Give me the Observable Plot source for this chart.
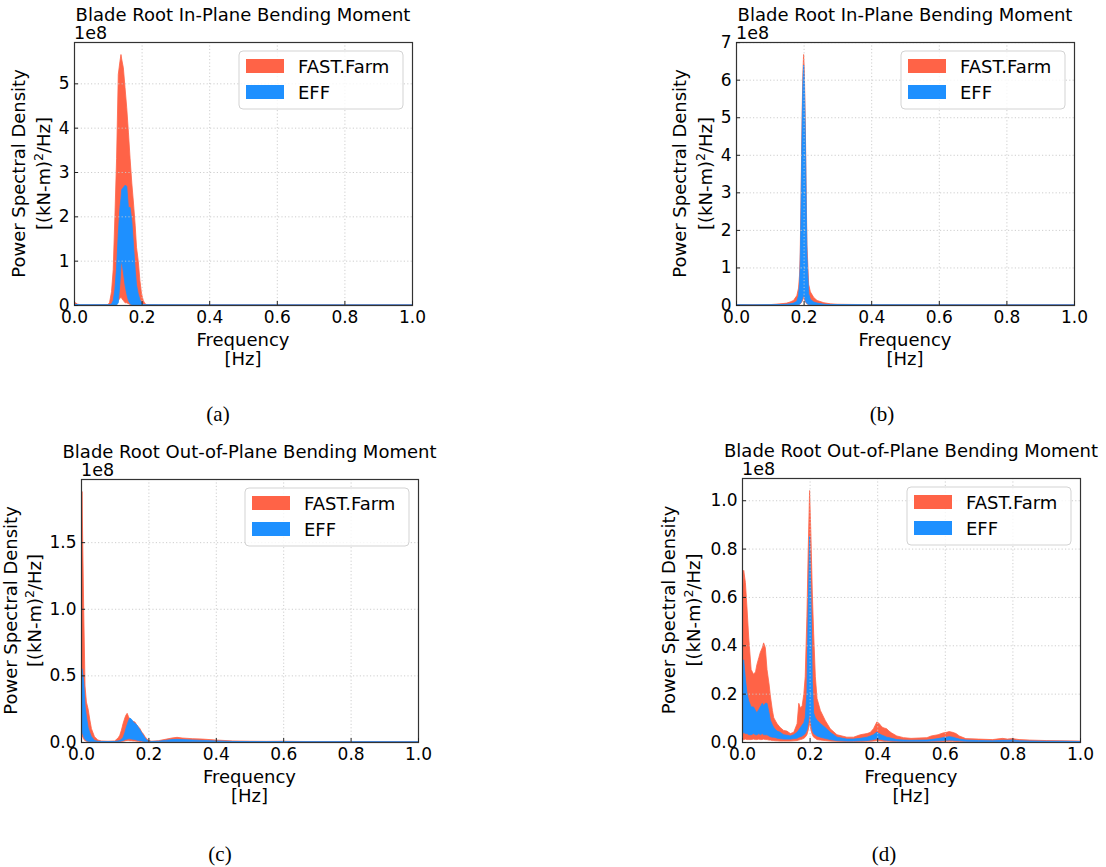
<!DOCTYPE html>
<html>
<head>
<meta charset="utf-8">
<script src="https://cdn.jsdelivr.net/npm/d3@7"></script>
<script src="https://cdn.jsdelivr.net/npm/@observablehq/plot@0.6"></script>
<style>
  body { margin: 0; background: #fff; }
  #fig { position: relative; width: 1106px; height: 867px; overflow: hidden; background: #fff; }
</style>
</head>
<body>
<div id="fig"></div>
<script>
// ---------------- DATA (PSD values in units of 1e8 (kN-m)^2/Hz) ----------------
const seriesNames = ["FAST.Farm", "EFF"];
const xTickValues = [0, 0.2, 0.4, 0.6, 0.8, 1.0];

// (a) Blade Root In-Plane Bending Moment
const aFreq = [0, 0.005, 0.01, 0.02, 0.05, 0.1, 0.105, 0.111, 0.116, 0.121,
  0.126, 0.131, 0.136, 0.139, 0.141, 0.146, 0.151, 0.156, 0.161, 0.166,
  0.171, 0.176, 0.181, 0.185, 0.19, 0.195, 0.2, 0.205, 0.21, 0.215,
  0.25, 0.4, 0.6, 0.8, 1.0];
const aFastHi = [0.04, 0.05, 0.02, 0.005, 0.004, 0.01, 0.05, 0.3, 0.8, 2.0,
  3.3, 5.2, 5.5, 5.65, 5.55, 5.35, 4.9, 4.45, 3.9, 3.3,
  2.75, 2.3, 1.8, 1.3, 1.0, 0.55, 0.25, 0.1, 0.03, 0.01,
  0.006, 0.004, 0.003, 0.003, 0.003];
const aFastLo = [0, 0.005, 0, 0, 0, 0, 0, 0, 0, 0,
  0.02, 0.1, 0.15, 0.18, 0.15, 0.1, 0.05, 0.05, 0.03, 0.01,
  0, 0, 0, 0, 0, 0, 0, 0, 0, 0,
  0, 0, 0, 0, 0];
const aEffHi = [0.01, 0.015, 0.01, 0.004, 0.003, 0.004, 0.01, 0.02, 0.1, 0.35,
  0.85, 1.6, 2.2, 2.4, 2.6, 2.65, 2.7, 2.68, 2.2, 2.2,
  1.9, 1.35, 0.8, 0.45, 0.25, 0.12, 0.05, 0.01, 0.005, 0.004,
  0.003, 0.002, 0.002, 0.002, 0.002];
const aEffLo = [0, 0, 0, 0, 0, 0, 0, 0, 0, 0,
  0, 0.05, 0.5, 0.9, 1.0, 0.75, 0.45, 0.25, 0.1, 0.03,
  0, 0, 0, 0, 0, 0, 0, 0, 0, 0,
  0, 0, 0, 0, 0];
const aYTicks = [0, 1, 2, 3, 4, 5];

// (b) Blade Root In-Plane Bending Moment
const bFreq = [0, 0.05, 0.1, 0.13, 0.15, 0.16, 0.17, 0.18, 0.185, 0.188,
  0.19, 0.192, 0.194, 0.196, 0.198, 0.2, 0.202, 0.204, 0.206, 0.208,
  0.21, 0.215, 0.22, 0.23, 0.24, 0.26, 0.28, 0.3, 0.4, 0.6,
  0.8, 1.0];
const bFastHi = [0.01, 0.005, 0.01, 0.03, 0.05, 0.08, 0.12, 0.25, 0.45, 0.8,
  1.4, 2.6, 4.0, 5.3, 6.2, 6.67, 6.3, 5.4, 4.2, 2.8,
  1.6, 0.55, 0.35, 0.2, 0.12, 0.06, 0.03, 0.02, 0.008, 0.005,
  0.004, 0.004];
const bFastLo = [0, 0, 0, 0, 0, 0, 0, 0.005, 0.01, 0.02,
  0.03, 0.05, 0.08, 0.1, 0.15, 0.2, 0.15, 0.1, 0.08, 0.05,
  0.03, 0.01, 0.005, 0, 0, 0, 0, 0, 0, 0,
  0, 0];
const bEffHi = [0.005, 0.003, 0.005, 0.01, 0.02, 0.03, 0.05, 0.1, 0.25, 0.55,
  1.1, 2.3, 3.7, 5.0, 5.9, 6.39, 6.0, 5.1, 3.9, 2.5,
  1.3, 0.3, 0.15, 0.08, 0.05, 0.02, 0.01, 0.01, 0.004, 0.003,
  0.002, 0.002];
const bEffLo = [0, 0, 0, 0, 0, 0, 0, 0.005, 0.01, 0.02,
  0.04, 0.06, 0.1, 0.15, 0.2, 0.3, 0.2, 0.15, 0.1, 0.06,
  0.04, 0.01, 0.005, 0, 0, 0, 0, 0, 0, 0,
  0, 0];
const bYTicks = [0, 1, 2, 3, 4, 5, 6, 7];

// (c) Blade Root Out-of-Plane Bending Moment
const cFreq = [0, 0.003, 0.008, 0.012, 0.016, 0.021, 0.026, 0.031, 0.04, 0.05,
  0.06, 0.08, 0.1, 0.11, 0.115, 0.12, 0.125, 0.13, 0.133, 0.137,
  0.141, 0.145, 0.15, 0.155, 0.16, 0.165, 0.17, 0.175, 0.18, 0.185,
  0.19, 0.195, 0.2, 0.21, 0.23, 0.25, 0.27, 0.285, 0.3, 0.33,
  0.36, 0.4, 0.45, 0.5, 0.55, 0.6, 0.65, 0.7, 0.8, 1.0];
const cFastHi = [1.5, 1.88, 1.0, 0.42, 0.3, 0.25, 0.17, 0.1, 0.04, 0.015,
  0.008, 0.006, 0.008, 0.03, 0.05, 0.09, 0.14, 0.18, 0.2, 0.215,
  0.19, 0.17, 0.16, 0.155, 0.15, 0.13, 0.115, 0.1, 0.075, 0.06,
  0.04, 0.025, 0.012, 0.006, 0.01, 0.02, 0.03, 0.035, 0.03, 0.025,
  0.022, 0.015, 0.008, 0.006, 0.005, 0.006, 0.004, 0.003, 0.003, 0.002];
const cFastLo = [0.02, 0.05, 0.02, 0.01, 0.005, 0.003, 0.002, 0.002, 0.001, 0.001,
  0.001, 0.001, 0.001, 0.002, 0.003, 0.004, 0.006, 0.008, 0.01, 0.012,
  0.012, 0.01, 0.01, 0.008, 0.008, 0.006, 0.005, 0.004, 0.003, 0.002,
  0.002, 0.001, 0.001, 0.001, 0.001, 0.002, 0.002, 0.003, 0.002, 0.002,
  0.001, 0.001, 0.001, 0.001, 0.001, 0.001, 0.001, 0.001, 0.001, 0.001];
const cEffHi = [0.5, 0.55, 0.45, 0.27, 0.19, 0.11, 0.07, 0.04, 0.012, 0.005,
  0.004, 0.003, 0.004, 0.008, 0.012, 0.02, 0.035, 0.07, 0.1, 0.13,
  0.16, 0.18, 0.17, 0.15, 0.14, 0.13, 0.11, 0.09, 0.07, 0.05,
  0.03, 0.015, 0.006, 0.004, 0.006, 0.012, 0.018, 0.02, 0.018, 0.015,
  0.012, 0.008, 0.004, 0.003, 0.003, 0.004, 0.002, 0.002, 0.002, 0.001];
const cEffLo = [0.03, 0.08, 0.04, 0.02, 0.01, 0.006, 0.004, 0.003, 0.002, 0.001,
  0.001, 0.001, 0.001, 0.003, 0.005, 0.008, 0.012, 0.016, 0.02, 0.022,
  0.024, 0.025, 0.022, 0.02, 0.018, 0.015, 0.012, 0.01, 0.008, 0.005,
  0.003, 0.002, 0.001, 0.001, 0.002, 0.003, 0.004, 0.004, 0.004, 0.003,
  0.002, 0.002, 0.001, 0.001, 0.001, 0.001, 0.001, 0.001, 0.001, 0.001];
const cYTicks = [0, 0.5, 1.0, 1.5];

// (d) Blade Root Out-of-Plane Bending Moment
const dFreq = [0, 0.005, 0.01, 0.015, 0.02, 0.027, 0.034, 0.04, 0.044, 0.05,
  0.054, 0.06, 0.064, 0.069, 0.074, 0.08, 0.084, 0.09, 0.094, 0.1,
  0.104, 0.113, 0.123, 0.133, 0.143, 0.153, 0.163, 0.168, 0.173, 0.178,
  0.183, 0.187, 0.192, 0.196, 0.2, 0.204, 0.208, 0.212, 0.217, 0.222,
  0.232, 0.246, 0.261, 0.281, 0.31, 0.33, 0.35, 0.37, 0.38, 0.389,
  0.399, 0.405, 0.414, 0.42, 0.428, 0.435, 0.443, 0.458, 0.478, 0.5,
  0.547, 0.56, 0.58, 0.594, 0.605, 0.613, 0.623, 0.633, 0.643, 0.662,
  0.7, 0.741, 0.771, 0.785, 0.8, 0.82, 0.85, 0.9, 0.95, 1.0];
const dFastHi = [0.55, 0.71, 0.66, 0.55, 0.43, 0.30, 0.28, 0.29, 0.32, 0.35,
  0.37, 0.39, 0.41, 0.39, 0.30, 0.24, 0.19, 0.13, 0.10, 0.085,
  0.075, 0.06, 0.048, 0.045, 0.035, 0.04, 0.076, 0.16, 0.14, 0.15,
  0.2, 0.27, 0.52, 0.8, 1.04, 0.85, 0.62, 0.45, 0.27, 0.18,
  0.13, 0.09, 0.055, 0.03, 0.02, 0.02, 0.03, 0.035, 0.04, 0.055,
  0.083, 0.078, 0.062, 0.058, 0.055, 0.045, 0.037, 0.025, 0.018, 0.015,
  0.018, 0.025, 0.03, 0.037, 0.04, 0.043, 0.04, 0.035, 0.025, 0.014,
  0.012, 0.01, 0.015, 0.012, 0.014, 0.01, 0.008, 0.006, 0.005, 0.004];
const dFastLo = [0.005, 0.01, 0.012, 0.01, 0.01, 0.01, 0.012, 0.01, 0.01, 0.012,
  0.01, 0.01, 0.012, 0.01, 0.01, 0.008, 0.008, 0.006, 0.006, 0.005,
  0.005, 0.004, 0.004, 0.004, 0.004, 0.005, 0.006, 0.008, 0.01, 0.012,
  0.015, 0.02, 0.03, 0.05, 0.08, 0.05, 0.03, 0.02, 0.015, 0.01,
  0.008, 0.006, 0.004, 0.003, 0.002, 0.002, 0.002, 0.003, 0.003, 0.004,
  0.006, 0.005, 0.004, 0.003, 0.003, 0.003, 0.002, 0.002, 0.002, 0.002,
  0.002, 0.002, 0.002, 0.002, 0.003, 0.003, 0.003, 0.002, 0.002, 0.002,
  0.001, 0.001, 0.001, 0.001, 0.001, 0.001, 0.001, 0.001, 0.001, 0.001];
const dEffHi = [0.3, 0.34, 0.26, 0.2, 0.17, 0.145, 0.145, 0.13, 0.12, 0.135,
  0.145, 0.16, 0.15, 0.16, 0.16, 0.12, 0.09, 0.07, 0.06, 0.05,
  0.045, 0.04, 0.03, 0.028, 0.025, 0.03, 0.04, 0.05, 0.06, 0.07,
  0.08, 0.1, 0.2, 0.55, 0.85, 0.6, 0.25, 0.12, 0.1, 0.09,
  0.076, 0.06, 0.04, 0.02, 0.012, 0.012, 0.015, 0.02, 0.025, 0.03,
  0.041, 0.035, 0.028, 0.025, 0.02, 0.018, 0.015, 0.01, 0.008, 0.007,
  0.008, 0.01, 0.014, 0.018, 0.02, 0.022, 0.02, 0.016, 0.012, 0.008,
  0.006, 0.005, 0.007, 0.007, 0.008, 0.005, 0.004, 0.003, 0.003, 0.002];
const dEffLo = [0.03, 0.04, 0.035, 0.035, 0.03, 0.03, 0.035, 0.03, 0.03, 0.035,
  0.03, 0.035, 0.03, 0.03, 0.03, 0.025, 0.022, 0.02, 0.02, 0.018,
  0.016, 0.014, 0.012, 0.012, 0.012, 0.014, 0.016, 0.02, 0.022, 0.025,
  0.03, 0.035, 0.05, 0.08, 0.12, 0.08, 0.05, 0.035, 0.03, 0.025,
  0.02, 0.015, 0.01, 0.006, 0.004, 0.004, 0.005, 0.006, 0.008, 0.01,
  0.014, 0.012, 0.01, 0.008, 0.007, 0.006, 0.005, 0.004, 0.003, 0.003,
  0.003, 0.004, 0.005, 0.006, 0.007, 0.008, 0.007, 0.006, 0.005, 0.003,
  0.002, 0.002, 0.002, 0.002, 0.003, 0.002, 0.002, 0.001, 0.001, 0.001];
const dYTicks = [0, 0.2, 0.4, 0.6, 0.8, 1.0];

// ---------------- LAYOUT / STYLE ----------------
const COLOR_FAST = "#FF6347";
const COLOR_EFF = "#1E90FF";
const FONT = '"DejaVu Sans", sans-serif';

const panels = [
  { title: "Blade Root In-Plane Bending Moment", caption: "(a)",
    f: aFreq, fastLo: aFastLo, fastHi: aFastHi, effLo: aEffLo, effHi: aEffHi,
    yTicks: aYTicks, yFmt: d3.format("d"),
    frame: { l: 74, t: 42, r: 412, b: 305 }, ylab: [25, 50], cap: [218, 421] },
  { title: "Blade Root In-Plane Bending Moment", caption: "(b)",
    f: bFreq, fastLo: bFastLo, fastHi: bFastHi, effLo: bEffLo, effHi: bEffHi,
    yTicks: bYTicks, yFmt: d3.format("d"),
    frame: { l: 736, t: 42, r: 1074, b: 305 }, ylab: [686, 712], cap: [882, 421] },
  { title: "Blade Root Out-of-Plane Bending Moment", caption: "(c)",
    f: cFreq, fastLo: cFastLo, fastHi: cFastHi, effLo: cEffLo, effHi: cEffHi,
    yTicks: cYTicks, yFmt: d3.format(".1f"),
    frame: { l: 81, t: 479, r: 418, b: 742 }, ylab: [17, 41], cap: [220, 861] },
  { title: "Blade Root Out-of-Plane Bending Moment", caption: "(d)",
    f: dFreq, fastLo: dFastLo, fastHi: dFastHi, effLo: dEffLo, effHi: dEffHi,
    yTicks: dYTicks, yFmt: d3.format(".1f"),
    frame: { l: 742, t: 478, r: 1080, b: 742 }, ylab: [675, 700], cap: [884, 861] }
];

const fig = document.getElementById("fig");
const ML = 52, MR = 12, MT = 10, MB = 34;

const gridStyle = { stroke: "#c8c8c8", strokeOpacity: 1, strokeWidth: 0.9, strokeDasharray: "1.2,2.2" };

for (const p of panels) {
  const { l, t, r, b } = p.frame;
  const rows = p.f.map((f, i) => ({
    f, fastLo: p.fastLo[i], fastHi: p.fastHi[i], effLo: p.effLo[i], effHi: p.effHi[i]
  }));
  const ymax = d3.max([...p.fastHi, ...p.effHi]) * 1.05;
  const chart = Plot.plot({
    width: r - l + ML + MR,
    height: b - t + MT + MB,
    marginLeft: ML, marginRight: MR, marginTop: MT, marginBottom: MB,
    style: { fontFamily: FONT, fontSize: "17px", color: "#000", background: "transparent", overflow: "visible" },
    x: { domain: [0, 1], axis: null },
    y: { domain: [0, ymax], axis: null },
    marks: [
      Plot.areaY(rows, { x: "f", y1: "fastLo", y2: "fastHi", fill: COLOR_FAST, stroke: COLOR_FAST, strokeWidth: 0.8, clip: true }),
      Plot.areaY(rows, { x: "f", y1: "effLo", y2: "effHi", fill: COLOR_EFF, stroke: COLOR_EFF, strokeWidth: 0.8, clip: true }),
      Plot.gridX(xTickValues, gridStyle),
      Plot.gridY(p.yTicks, gridStyle),
      Plot.frame({ stroke: "#333", strokeWidth: 1.2 }),
      Plot.axisX(xTickValues, { tickSize: -4, tickFormat: () => "", label: null, stroke: "#222" }),
      Plot.axisY(p.yTicks, { tickSize: -4, tickFormat: () => "", label: null, stroke: "#222" }),
      Plot.axisX(xTickValues, { tickSize: 0, tickPadding: 5, tickFormat: d3.format(".1f"), label: null, fontSize: 17, fill: "#000" }),
      Plot.axisY(p.yTicks, { tickSize: 0, tickPadding: 5, tickFormat: p.yFmt, label: null, fontSize: 17, fill: "#000" })
    ]
  });
  chart.style.position = "absolute";
  chart.style.left = (l - ML) + "px";
  chart.style.top = (t - MT) + "px";
  fig.appendChild(chart);
}

// ---------------- TEXT / LEGEND OVERLAY ----------------
const ov = d3.select(fig).append("svg")
  .attr("width", 1106).attr("height", 867)
  .style("position", "absolute").style("left", "0px").style("top", "0px")
  .style("font-family", FONT);

for (const p of panels) {
  const { l, t, r, b } = p.frame;
  const cx = (l + r) / 2, cy = (t + b) / 2;
  ov.append("text").attr("x", cx).attr("y", t - 21.5).attr("text-anchor", "middle")
    .attr("font-size", 18).text(p.title);
  ov.append("text").attr("x", l).attr("y", t - 3.5).attr("text-anchor", "start")
    .attr("font-size", 17.5).text("1e8");
  ov.append("text").attr("x", cx).attr("y", b + 41).attr("text-anchor", "middle")
    .attr("font-size", 18).text("Frequency");
  ov.append("text").attr("x", cx).attr("y", b + 60).attr("text-anchor", "middle")
    .attr("font-size", 18).text("[Hz]");
  ov.append("text").attr("transform", `translate(${p.ylab[0]},${cy}) rotate(-90)`)
    .attr("text-anchor", "middle").attr("font-size", 18).text("Power Spectral Density");
  const t2 = ov.append("text").attr("transform", `translate(${p.ylab[1]},${cy}) rotate(-90)`)
    .attr("text-anchor", "middle").attr("font-size", 18);
  t2.append("tspan").text("[(kN-m)");
  t2.append("tspan").attr("font-size", 12.5).attr("dy", -7).text("2");
  t2.append("tspan").attr("dy", 7).text("/Hz]");

  // legend
  const lx = r - 173, ly = t + 9;
  const g = ov.append("g");
  g.append("rect").attr("x", lx).attr("y", ly).attr("width", 164).attr("height", 58)
    .attr("rx", 4).attr("fill", "#fff").attr("fill-opacity", 0.8)
    .attr("stroke", "#d3d3d3").attr("stroke-width", 1);
  [[COLOR_FAST, seriesNames[0], 8], [COLOR_EFF, seriesNames[1], 34]].forEach(([c, name, dy]) => {
    g.append("rect").attr("x", lx + 7).attr("y", ly + dy).attr("width", 38).attr("height", 14).attr("fill", c);
    g.append("text").attr("x", lx + 59).attr("y", ly + dy + 13.5).attr("font-size", 18).text(name);
  });

  // caption
  ov.append("text").attr("x", p.cap[0]).attr("y", p.cap[1]).attr("text-anchor", "middle")
    .attr("font-family", '"Liberation Serif", "Times New Roman", serif').attr("font-size", 21)
    .text(p.caption);
}
</script>
</body>
</html>
